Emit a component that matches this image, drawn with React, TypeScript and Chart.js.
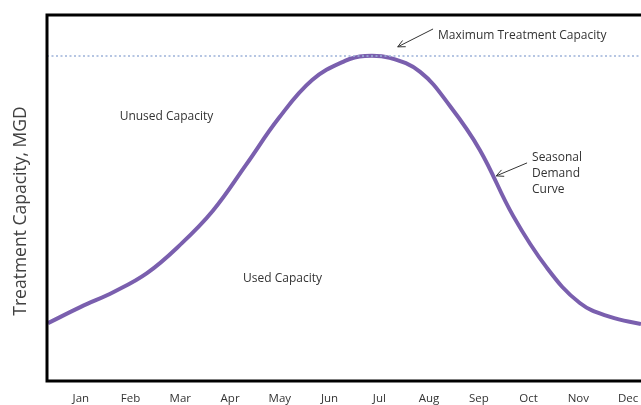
import React, { useEffect, useRef } from "react";
import { Chart, registerables } from "chart.js";

Chart.register(...registerables);

// ---- data ----
const MONTHS = ["Jan", "Feb", "Mar", "Apr", "May", "Jun", "Jul", "Aug", "Sep", "Oct", "Nov", "Dec"];
// month position (1 = Jan ... 12 = Dec) along the seasonal demand curve
const CURVE_MONTH = [0.34, 1.0, 1.66, 2.33, 2.99, 3.65, 4.32, 4.98, 5.65, 6.31, 6.71, 7.21, 7.82, 8.42, 9.02, 9.69, 10.37, 11.03, 11.64, 12.26];
// demand, MGD (arbitrary scale, max capacity = 10)
const CURVE_DEMAND = [1.78, 2.28, 2.74, 3.32, 4.18, 5.23, 6.65, 8.09, 9.26, 9.85, 10.0, 9.94, 9.51, 8.46, 7.11, 5.08, 3.48, 2.4, 1.97, 1.75];
const MAX_CAPACITY = 10;
const X_MIN = 0.32;
const X_MAX = 12.26;
const Y_MIN = 0;
const Y_MAX = 11.26;

const Y_TITLE = "Treatment Capacity, MGD";

type Note = { text: string; x: number; y: number };
const NOTES: Note[] = [
  { text: "Maximum Treatment Capacity", x: 8.18, y: 10.62 },
  { text: "Unused Capacity", x: 1.78, y: 8.15 },
  { text: "Used Capacity", x: 4.26, y: 3.14 },
  { text: "Seasonal", x: 10.07, y: 6.86 },
  { text: "Demand", x: 10.07, y: 6.37 },
  { text: "Curve", x: 10.07, y: 5.88 },
];
type Arrow = { x1: number; y1: number; x2: number; y2: number };
const ARROWS: Arrow[] = [
  { x1: 8.08, y1: 10.83, x2: 7.37, y2: 10.28 },
  { x1: 9.97, y1: 6.71, x2: 9.35, y2: 6.31 },
];

const decorPlugin = {
  id: "decor",
  afterDatasetsDraw(chart: any) {
    const { ctx, chartArea, scales } = chart;
    const xs = scales.x;
    const ys = scales.y;
    ctx.save();
    // frame: left, top, bottom
    ctx.strokeStyle = "#000";
    ctx.lineWidth = 3;
    ctx.beginPath();
    ctx.moveTo(chartArea.right + 2, chartArea.top);
    ctx.lineTo(chartArea.left, chartArea.top);
    ctx.lineTo(chartArea.left, chartArea.bottom);
    ctx.lineTo(chartArea.right + 2, chartArea.bottom);
    ctx.stroke();

    // notes
    ctx.fillStyle = "#333";
    ctx.font = "12px 'Open Sans'";
    ctx.textAlign = "left";
    ctx.textBaseline = "middle";
    NOTES.forEach((n) => {
      ctx.fillText(n.text, xs.getPixelForValue(n.x), ys.getPixelForValue(n.y));
    });

    // arrows
    ctx.strokeStyle = "#333";
    ctx.lineWidth = 1;
    ARROWS.forEach((a) => {
      const x1 = xs.getPixelForValue(a.x1);
      const y1 = ys.getPixelForValue(a.y1);
      const x2 = xs.getPixelForValue(a.x2);
      const y2 = ys.getPixelForValue(a.y2);
      const ang = Math.atan2(y2 - y1, x2 - x1);
      const L = 8;
      ctx.beginPath();
      ctx.moveTo(x1, y1);
      ctx.lineTo(x2, y2);
      ctx.moveTo(x2 - L * Math.cos(ang - 0.45), y2 - L * Math.sin(ang - 0.45));
      ctx.lineTo(x2, y2);
      ctx.lineTo(x2 - L * Math.cos(ang + 0.45), y2 - L * Math.sin(ang + 0.45));
      ctx.stroke();
    });

    // y title
    ctx.fillStyle = "#404040";
    ctx.font = "17.5px 'Open Sans'";
    ctx.textAlign = "center";
    ctx.textBaseline = "middle";
    ctx.translate(21, (chartArea.top + chartArea.bottom) / 2 + 13);
    ctx.rotate(-Math.PI / 2);
    ctx.fillText(Y_TITLE, 0, 0);
    ctx.restore();
  },
};

export default function App() {
  const ref = useRef<HTMLCanvasElement | null>(null);
  useEffect(() => {
    if (!ref.current) return;
    const curve = CURVE_MONTH.map((m, i) => ({ x: m, y: CURVE_DEMAND[i] }));
    const cap = [
      { x: X_MIN, y: MAX_CAPACITY },
      { x: X_MAX, y: MAX_CAPACITY },
    ];
    const chart = new Chart(ref.current, {
      type: "line",
      data: {
        datasets: [
          {
            label: "Maximum Treatment Capacity",
            data: cap,
            borderColor: "#9db3d9",
            borderWidth: 1.5,
            borderDash: [2, 2.5],
            pointRadius: 0,
            fill: false,
          },
          {
            label: "Seasonal Demand Curve",
            data: curve,
            borderColor: "#7a5fae",
            borderWidth: 4,
            pointRadius: 0,
            tension: 0.4,
            fill: false,
          },
        ],
      },
      options: {
        animation: false,
        responsive: false,
        events: [],
        layout: { padding: { top: 15, right: 0, left: 0, bottom: 0 } },
        plugins: { legend: { display: false }, tooltip: { enabled: false } },
        scales: {
          x: {
            type: "linear",
            min: X_MIN,
            max: X_MAX,
            grid: { display: false, drawTicks: true, tickLength: 11 },
            border: { display: false },
            afterBuildTicks: (s: any) => {
              s.ticks = MONTHS.map((_, i) => ({ value: i + 1 }));
            },
            afterFit: (s: any) => {
              s.height = 24;
            },
            ticks: {
              autoSkip: false,
              maxRotation: 0,
              padding: 0,
              color: "#333",
              font: { family: "'Open Sans'", size: 11.5 },
              callback: (v: any) => MONTHS[Math.round(Number(v)) - 1] ?? "",
            },
          },
          y: {
            min: Y_MIN,
            max: Y_MAX,
            grid: { display: false },
            border: { display: false },
            ticks: { display: false },
            afterFit: (s: any) => {
              s.width = 47;
            },
          },
        },
      },
      plugins: [decorPlugin],
    } as any);
    return () => chart.destroy();
  }, []);
  return (
    <div style={{ position: "absolute", left: 0, top: 0, width: 641, height: 405, background: "#fff" }}>
      <canvas ref={ref} width={641} height={405} />
    </div>
  );
}
